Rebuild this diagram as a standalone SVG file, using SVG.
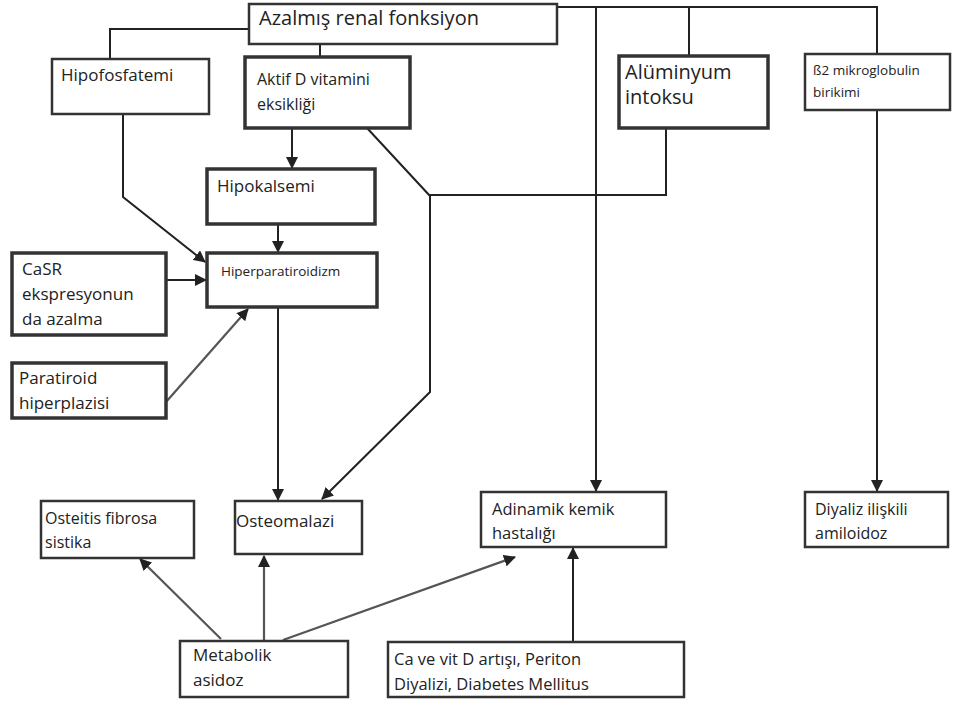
<svg xmlns="http://www.w3.org/2000/svg" width="957" height="702" viewBox="0 0 957 702">
<defs>
<marker id="ah" markerUnits="userSpaceOnUse" markerWidth="12" markerHeight="12" viewBox="0 0 12 12" refX="11" refY="6" orient="auto">
<path d="M0,0 L12,6 L0,12 Z" fill="#222"/>
</marker>
</defs>
<style>
.box{fill:#fff;stroke:#333;stroke-width:2.5}
.thick{stroke-width:3.5}
.t{font-family:"Open Sans","Noto Sans",sans-serif;fill:#222}
.c{fill:none;stroke:#222;stroke-width:2}
.a{fill:none;stroke:#222;stroke-width:2;marker-end:url(#ah)}
.g{fill:none;stroke:#555;stroke-width:2.2;marker-end:url(#ah)}
</style>
<rect width="957" height="702" fill="#fff"/>
<g id="connectors">
<polyline class="c" points="249,29 110,29 110,59"/>
<polyline class="c" points="557,7 877,7 877,54"/>
<line class="c" x1="689" y1="7" x2="689" y2="56"/>
<line class="a" x1="596" y1="7" x2="596" y2="491"/>
<line class="c" x1="320" y1="44" x2="320" y2="57"/>
<line class="a" x1="292" y1="128" x2="292" y2="168"/>
<polyline class="a" points="123,114 123,197 205,262"/>
<line class="a" x1="278" y1="224" x2="278" y2="252"/>
<line class="a" x1="166" y1="280" x2="206" y2="280"/>
<line class="g" x1="166" y1="402" x2="248" y2="309"/>
<polyline class="a" points="367,128 430,196 430,392 322,499"/>
<polyline class="c" points="430,195 666,195 666,128"/>
<line class="a" x1="278" y1="307" x2="278" y2="500"/>
<line class="a" x1="877" y1="110" x2="877" y2="491"/>
<line class="a" x1="573" y1="642" x2="573" y2="548"/>
<line class="g" x1="221" y1="639" x2="140" y2="559"/>
<line class="g" x1="264" y1="640" x2="264" y2="556"/>
<line class="g" x1="283" y1="640" x2="515" y2="557"/>
</g>
<g id="n-azalmis">
<rect class="box" x="249" y="4" width="308" height="40"/>
<text class="t" x="259" y="25" font-size="20">Azalmış renal fonksiyon</text>
</g>
<g id="n-hipofosfatemi">
<rect class="box" x="52" y="59" width="157" height="55"/>
<text class="t" x="61" y="81" font-size="17">Hipofosfatemi</text>
</g>
<g id="n-aktifd">
<rect class="box thick" x="245" y="57" width="165" height="71"/>
<text class="t" x="257" y="85" font-size="16">Aktif D vitamini</text>
<text class="t" x="257" y="110" font-size="16">eksikliği</text>
</g>
<g id="n-aluminyum">
<rect class="box thick" x="619" y="56" width="149" height="72"/>
<text class="t" x="625" y="79" font-size="20">Alüminyum</text>
<text class="t" x="625" y="104" font-size="20"> intoksu</text>
</g>
<g id="n-b2">
<rect class="box" x="805" y="54" width="145" height="56"/>
<text class="t" x="813" y="75" font-size="13.5">ß2 mikroglobulin</text>
<text class="t" x="813" y="97" font-size="13.5">birikimi</text>
</g>
<g id="n-hipokalsemi">
<rect class="box thick" x="207" y="169" width="168" height="55"/>
<text class="t" x="217" y="192" font-size="17">Hipokalsemi</text>
</g>
<g id="n-hiperpara">
<rect class="box thick" x="207" y="253" width="170" height="54"/>
<text class="t" x="221" y="276" font-size="13.5">Hiperparatiroidizm</text>
</g>
<g id="n-casr">
<rect class="box thick" x="12" y="253" width="154" height="82"/>
<text class="t" x="22" y="275" font-size="17">CaSR</text>
<text class="t" x="22" y="300" font-size="17">ekspresyonun</text>
<text class="t" x="22" y="325" font-size="17">da azalma</text>
</g>
<g id="n-paratiroid">
<rect class="box thick" x="12" y="363" width="154" height="55"/>
<text class="t" x="19" y="384" font-size="17">Paratiroid</text>
<text class="t" x="19" y="409" font-size="17">hiperplazisi</text>
</g>
<g id="n-osteitis">
<rect class="box" x="41" y="501" width="153" height="57"/>
<text class="t" x="45" y="524" font-size="16">Osteitis fibrosa</text>
<text class="t" x="45" y="548" font-size="16">sistika</text>
</g>
<g id="n-osteomalazi">
<rect class="box" x="235" y="501" width="127" height="53"/>
<text class="t" x="236" y="527" font-size="17">Osteomalazi</text>
</g>
<g id="n-adinamik">
<rect class="box" x="481" y="492" width="185" height="55"/>
<text class="t" x="492" y="515" font-size="16.5">Adinamik kemik</text>
<text class="t" x="492" y="539" font-size="16.5">hastalığı</text>
</g>
<g id="n-diyaliz">
<rect class="box" x="805" y="492" width="143" height="55"/>
<text class="t" x="815" y="515" font-size="16">Diyaliz ilişkili</text>
<text class="t" x="815" y="539" font-size="16">amiloidoz</text>
</g>
<g id="n-metabolik">
<rect class="box" x="180" y="641" width="168" height="56"/>
<text class="t" x="193" y="661" font-size="17">Metabolik</text>
<text class="t" x="193" y="686" font-size="17">asidoz</text>
</g>
<g id="n-cave">
<rect class="box" x="388" y="642" width="296" height="55"/>
<text class="t" x="394" y="665" font-size="16.5">Ca ve vit D artışı, Periton</text>
<text class="t" x="394" y="690" font-size="16.5">Diyalizi, Diabetes Mellitus</text>
</g>
</svg>
